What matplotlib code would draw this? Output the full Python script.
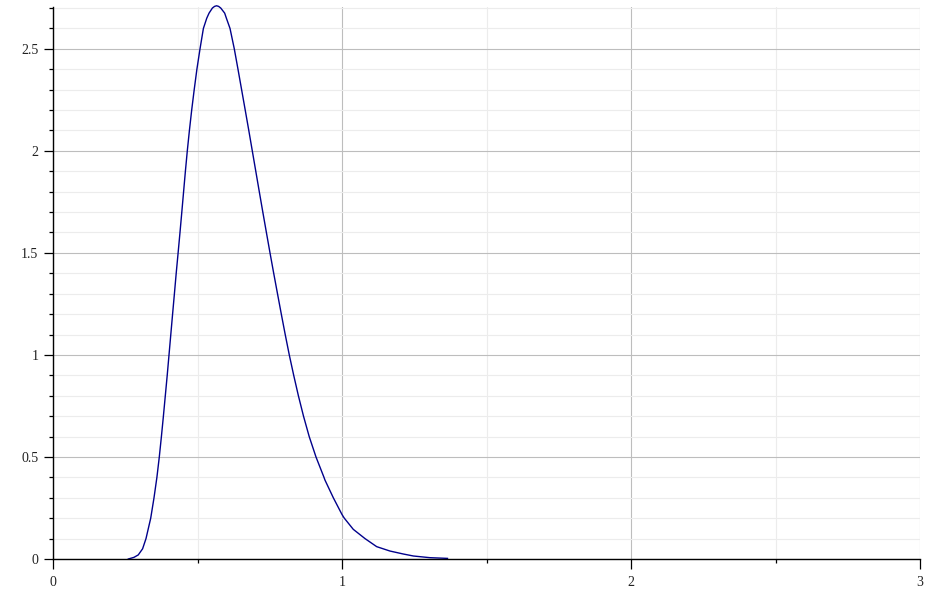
import matplotlib
matplotlib.use("Agg")
import matplotlib.pyplot as plt
from matplotlib.ticker import MultipleLocator

x_vals = [0.2606, 0.28, 0.295, 0.310, 0.3218, 0.3381, 0.3495, 0.3595, 0.3678, 0.3751,
          0.3820, 0.3886, 0.3952, 0.4014, 0.4076, 0.4138, 0.4201, 0.4263, 0.4329, 0.4394,
          0.4457, 0.4519, 0.4581, 0.4647, 0.4720, 0.4799, 0.4886, 0.4979, 0.5087, 0.5204,
          0.532, 0.540, 0.5516, 0.559, 0.566, 0.573, 0.5804, 0.594, 0.600, 0.6125,
          0.6273, 0.6401, 0.6526, 0.6651, 0.6775, 0.6896, 0.7017, 0.7138, 0.7260, 0.7384,
          0.7509, 0.7637, 0.7768, 0.7900, 0.8035, 0.8176, 0.8329, 0.8491, 0.8668, 0.8865,
          0.9100, 0.9377, 0.941, 0.970, 1.0, 1.008, 1.039, 1.0796, 1.120, 1.166,
          1.212, 1.247, 1.304, 1.365]
y_vals = [0.0, 0.008, 0.02, 0.05, 0.1, 0.2, 0.3, 0.4, 0.5, 0.6,
          0.7, 0.8, 0.9, 1.0, 1.1, 1.2, 1.3, 1.4, 1.5, 1.6,
          1.7, 1.8, 1.9, 2.0, 2.1, 2.2, 2.3, 2.4, 2.5, 2.6,
          2.65, 2.675, 2.70, 2.708, 2.711, 2.708, 2.70, 2.675, 2.65, 2.6,
          2.5, 2.4, 2.3, 2.2, 2.1, 2.0, 1.9, 1.8, 1.7, 1.6,
          1.5, 1.4, 1.3, 1.2, 1.1, 1.0, 0.9, 0.8, 0.7, 0.6,
          0.5, 0.4, 0.387, 0.3, 0.218, 0.2, 0.1454, 0.1, 0.0605, 0.039,
          0.0245, 0.0147, 0.0065, 0.003]

x_major = [0, 1, 2, 3]
x_tick_labels = ["0", "1", "2", "3"]
y_major = [0, 0.5, 1, 1.5, 2, 2.5]
y_tick_labels = ["0", "0.5", "1", "1.5", "2", "2.5"]

W, H = 930, 607
fig = plt.figure(figsize=(W / 100, H / 100), dpi=100)
ax = fig.add_axes([53 / W, 1 - 559 / H, (920 - 53) / W, (559 - 7) / H])

ax.plot(x_vals, y_vals, color="#00008b", linewidth=1.0, zorder=3,
        solid_joinstyle="round", clip_on=False)

ax.set_xlim(0, 3)
ax.set_ylim(0, 2.705)
ax.set_xticks(x_major)
ax.set_xticklabels(x_tick_labels)
ax.set_yticks(y_major)
ax.set_yticklabels(y_tick_labels)
ax.xaxis.set_minor_locator(MultipleLocator(0.5))
ax.yaxis.set_minor_locator(MultipleLocator(0.1))

ax.grid(which="major", color="#bdbdbd", linewidth=0.8, zorder=0)
ax.grid(which="minor", color="#ececec", linewidth=0.8, zorder=0)
ax.set_axisbelow(True)

for s in ["top", "right"]:
    ax.spines[s].set_visible(False)
for s in ["left", "bottom"]:
    ax.spines[s].set_color("black")
    ax.spines[s].set_linewidth(1.0)
    ax.spines[s].set_zorder(4)

ax.tick_params(axis="y", which="major", length=6.5, width=0.9, color="black", pad=4)
ax.tick_params(axis="y", which="minor", length=3, width=0.9, color="black")
ax.tick_params(axis="x", which="major", length=7, width=0.9, color="black", pad=5)
ax.tick_params(axis="x", which="minor", length=3, width=0.9, color="black")
for lab in ax.get_xticklabels() + ax.get_yticklabels():
    lab.set_fontfamily("Liberation Serif")
    lab.set_fontsize(10)
    lab.set_color("#222222")

fig.savefig("out.png", dpi=100)
